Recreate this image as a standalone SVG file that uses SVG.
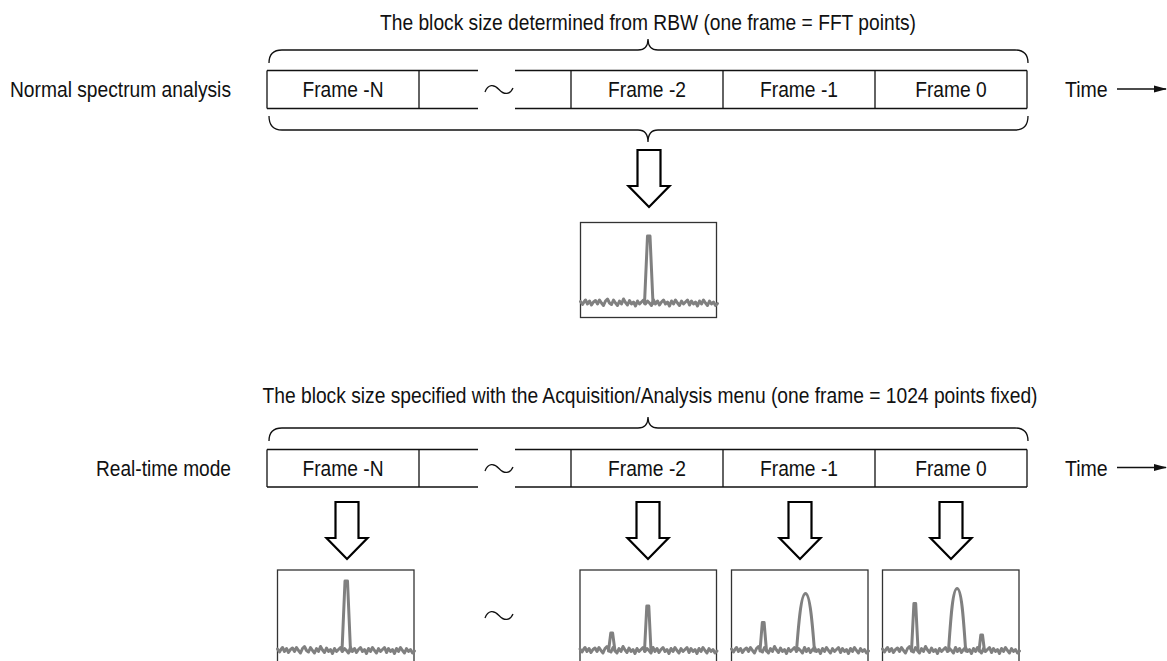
<svg xmlns="http://www.w3.org/2000/svg" xmlns:xlink="http://www.w3.org/1999/xlink" width="1167" height="661" viewBox="0 0 1167 661">
<style>
  .t { font-family: "Liberation Sans", Arial, sans-serif; font-size: 22px; fill: #111; }
  .line { fill: none; stroke: #111; stroke-width: 1.3; }
  .brace { fill: none; stroke: #111; stroke-width: 1.3; }
  .box { fill: #fff; stroke: #333; stroke-width: 1.3; }
  .trace { fill: none; stroke: #808080; stroke-width: 3; stroke-linejoin: round; stroke-linecap: round; }
  .blk { fill: #fff; stroke: #000; stroke-width: 2.2; stroke-linejoin: miter; }
  .tilde { fill: none; stroke: #111; stroke-width: 1.3; }
</style>
<defs>
  <polygon id="blockArrow" class="blk" points="-11.5,0 11.5,0 11.5,36 20.5,36 0,57 -20.5,36 -11.5,36"/>
  <polyline id="noise" class="trace" points="0,79 2,82 3.5,79.5 5,77.5 7,81.5 9,78.5 11,82.5 13,79.5 15,78 17,81.5 19,77.5 21,80.5 23,83 25,78.5 27,76.5 29,80.5 31,82 33,77.5 35,80.5 37,83 39,78.5 41,81.5 43,76.5 45,80 47,82.5 49,78 51,81.5 53,79.5 55,83.5 57,78.5 59,81.5 61,79.5 63,77.5 65,81.5 67,78.5 69,80.5 71,83 73,77.5 75,81.5 77,78.5 79,82.5 81,79.5 83,77.5 85,81.5 87,79.5 89,83.5 91,78.5 93,81.5 95,77.5 97,80.5 99,83 101,78.5 103,81.5 105,79.5 107,77.5 109,82.5 111,78.5 113,81.5 115,79.5 117,83.5 119,78.5 121,81.5 123,77.5 125,80.5 127,83 129,78.5 131,81.5 133,79.5 135,83 137,81"/>
  <marker id="timeHead" markerWidth="13" markerHeight="8" refX="12" refY="4" orient="auto" markerUnits="userSpaceOnUse">
    <polygon points="0,0.6 13,4 0,7.4" fill="#111"/>
  </marker>
</defs>

<!-- ===== Section 1: Normal spectrum analysis ===== -->
<g id="title1">
  <text class="t" x="648" y="30" text-anchor="middle" textLength="536" lengthAdjust="spacingAndGlyphs">The block size determined from RBW (one frame = FFT points)</text>
</g>
<g id="label-normal">
  <text class="t" x="10" y="96.5" textLength="221" lengthAdjust="spacingAndGlyphs">Normal spectrum analysis</text>
</g>
<g id="brace1-top">
  <path class="brace" d="M269 63 Q269 50 282 50 H638 Q648 50 648 39 Q648 50 658 50 H1015 Q1028 50 1028 63"/>
</g>
<g id="row1">
  <path class="line" d="M267 70.5 H478 M515 70.5 H1027 M267 108.5 H478 M515 108.5 H1027 M267 70.5 V108.5 M1027 70.5 V108.5 M419 70.5 V108.5 M571 70.5 V108.5 M723 70.5 V108.5 M875 70.5 V108.5"/>
  <path class="tilde" d="M485 92 C488 84 494 84 499 89.5 C504 95 510 95 513 88"/>
  <text class="t" x="343" y="96.5" text-anchor="middle" textLength="81" lengthAdjust="spacingAndGlyphs">Frame -N</text>
  <text class="t" x="647" y="96.5" text-anchor="middle" textLength="78" lengthAdjust="spacingAndGlyphs">Frame -2</text>
  <text class="t" x="799" y="96.5" text-anchor="middle" textLength="78" lengthAdjust="spacingAndGlyphs">Frame -1</text>
  <text class="t" x="951" y="96.5" text-anchor="middle" textLength="71.5" lengthAdjust="spacingAndGlyphs">Frame 0</text>
</g>
<g id="time1">
  <text class="t" x="1065" y="96.5" textLength="42.7" lengthAdjust="spacingAndGlyphs">Time</text>
</g>
<g id="brace1-bottom">
  <path class="brace" d="M269 116 Q269 130 282 130 H638 Q648 130 648 142 Q648 130 658 130 H1015 Q1028 130 1028 116"/>
</g>
<g id="spectrum1" transform="translate(580.5,222.5)">
  <rect class="box" x="0" y="0" width="136" height="95"/>
  <use xlink:href="#noise" href="#noise"/>
  <polyline class="trace" points="64,81 67,13.5 69.5,13.5 72.5,81"/>
</g>

<!-- ===== Section 2: Real-time mode ===== -->
<g id="title2">
  <text class="t" x="650" y="403" text-anchor="middle" textLength="775" lengthAdjust="spacingAndGlyphs">The block size specified with the Acquisition/Analysis menu (one frame = 1024 points fixed)</text>
</g>
<g id="label-realtime">
  <text class="t" x="96" y="476" textLength="135" lengthAdjust="spacingAndGlyphs">Real-time mode</text>
</g>
<g id="brace2-top">
  <path class="brace" d="M269 441 Q269 428 282 428 H638 Q648 428 648 417 Q648 428 658 428 H1015 Q1028 428 1028 441"/>
</g>
<g id="row2">
  <path class="line" d="M267 449.5 H478 M515 449.5 H1027 M267 487 H478 M515 487 H1027 M267 449.5 V487 M1027 449.5 V487 M419 449.5 V487 M571 449.5 V487 M723 449.5 V487 M875 449.5 V487"/>
  <path class="tilde" d="M485 471 C488 463 494 463 499 468.5 C504 474 510 474 513 467"/>
  <text class="t" x="343" y="476" text-anchor="middle" textLength="81" lengthAdjust="spacingAndGlyphs">Frame -N</text>
  <text class="t" x="647" y="476" text-anchor="middle" textLength="78" lengthAdjust="spacingAndGlyphs">Frame -2</text>
  <text class="t" x="799" y="476" text-anchor="middle" textLength="78" lengthAdjust="spacingAndGlyphs">Frame -1</text>
  <text class="t" x="951" y="476" text-anchor="middle" textLength="71.5" lengthAdjust="spacingAndGlyphs">Frame 0</text>
</g>
<g id="time2">
  <text class="t" x="1065" y="476" textLength="42.7" lengthAdjust="spacingAndGlyphs">Time</text>
</g>

<g id="spectrum-N" transform="translate(277.5,570)">
  <rect class="box" x="0" y="0" width="136.5" height="100"/>
  <use xlink:href="#noise" href="#noise"/>
  <polyline class="trace" points="64.5,81 67.5,11 70,11 73,81"/>
</g>
<g id="gap-tilde">
  <path class="tilde" d="M485 618 C488 610 494 610 499 615.5 C504 621 510 621 513 614"/>
</g>
<g id="spectrum-2" transform="translate(580,570)">
  <rect class="box" x="0" y="0" width="136.5" height="100"/>
  <use xlink:href="#noise" href="#noise"/>
  <polyline class="trace" points="28.5,81 30.8,63 32.6,63 35,81"/>
  <polyline class="trace" points="64.5,81 66.8,36 68.8,36 71,81"/>
</g>
<g id="spectrum-1" transform="translate(731.5,570)">
  <rect class="box" x="0" y="0" width="136.5" height="100"/>
  <use xlink:href="#noise" href="#noise"/>
  <polyline class="trace" points="28.5,81 30.8,52.5 32.6,52.5 35,81"/>
  <path class="trace" d="M65 81 C67 55 69.5 23.5 74 23.5 C78.5 23.5 81 55 83 81"/>
</g>
<g id="spectrum-0" transform="translate(882.5,570)">
  <rect class="box" x="0" y="0" width="136.5" height="100"/>
  <use xlink:href="#noise" href="#noise"/>
  <polyline class="trace" points="29,81 31.4,33.5 33.2,33.5 35.6,81"/>
  <path class="trace" d="M66 81 C68 52 70 18.5 74.6 18.5 C79.2 18.5 81.2 52 83.2 81"/>
  <polyline class="trace" points="96.5,81 98.3,65 100,65 102,81"/>
</g>

<!-- ===== Connectors ===== -->
<g id="connectors">
  <use xlink:href="#blockArrow" href="#blockArrow" x="649" y="150"/>
  <use xlink:href="#blockArrow" href="#blockArrow" x="347" y="502"/>
  <use xlink:href="#blockArrow" href="#blockArrow" x="648" y="502"/>
  <use xlink:href="#blockArrow" href="#blockArrow" x="800" y="502"/>
  <use xlink:href="#blockArrow" href="#blockArrow" x="951" y="502"/>
  <line class="line" x1="1117" y1="89" x2="1166" y2="89" marker-end="url(#timeHead)"/>
  <line class="line" x1="1117" y1="467.5" x2="1166" y2="467.5" marker-end="url(#timeHead)"/>
</g>
</svg>
